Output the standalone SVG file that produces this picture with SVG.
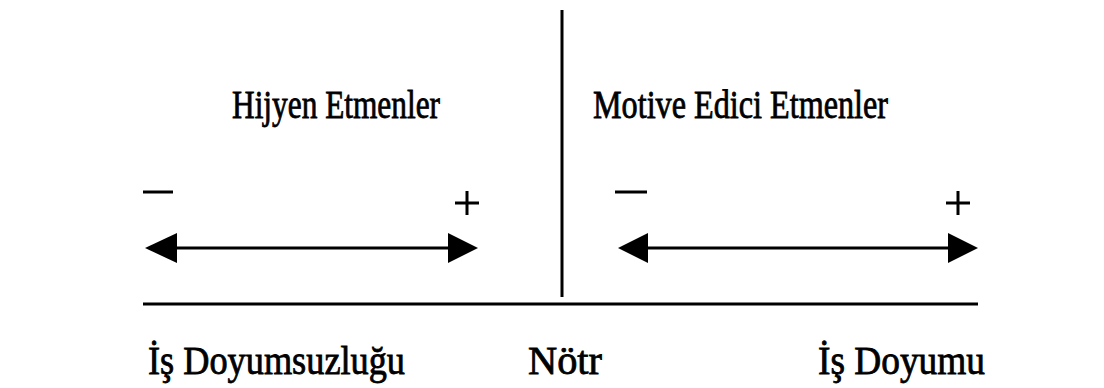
<svg xmlns="http://www.w3.org/2000/svg" width="1104" height="388" viewBox="0 0 1104 388">
<style>
text{font-family:'Liberation Serif','Times New Roman','DejaVu Serif',serif;font-size:40px;fill:#000;stroke:#000;stroke-width:0.8}
.ln{stroke:#000;stroke-width:3;fill:none}
.ah{fill:#000}
</style>
<rect width="1104" height="388" fill="#fff"/>
<g id="connectors">
<line class="ln" x1="562" y1="10" x2="562" y2="297"/>
<line class="ln" x1="143" y1="304" x2="978" y2="304"/>
<line class="ln" x1="170" y1="248" x2="455" y2="248"/>
<polygon class="ah" points="145,248 177,233 177,263"/>
<polygon class="ah" points="478,248 448,233 448,263"/>
<line class="ln" x1="640" y1="248" x2="955" y2="248"/>
<polygon class="ah" points="618,248 648,233 648,263"/>
<polygon class="ah" points="978,248 948,233 948,263"/>
</g>
<g id="hygiene">
<text x="232" y="118" textLength="208" lengthAdjust="spacingAndGlyphs">Hijyen Etmenler</text>
<line class="ln" x1="143" y1="192" x2="173" y2="192"/>
<path class="ln" d="M455,203H479M467,191V215" stroke-width="2"/>
</g>
<g id="motivators">
<text x="593" y="118" textLength="295" lengthAdjust="spacingAndGlyphs">Motive Edici Etmenler</text>
<line class="ln" x1="615" y1="192" x2="647" y2="192"/>
<path class="ln" d="M946,203H970M958,191V215" stroke-width="2"/>
</g>
<g id="dissatisfaction"><text x="148" y="374" textLength="257" lengthAdjust="spacingAndGlyphs">İş Doyumsuzluğu</text></g>
<g id="neutral"><text x="528" y="374" textLength="74" lengthAdjust="spacingAndGlyphs">Nötr</text></g>
<g id="satisfaction"><text x="818" y="374" textLength="167" lengthAdjust="spacingAndGlyphs">İş Doyumu</text></g>
</svg>
